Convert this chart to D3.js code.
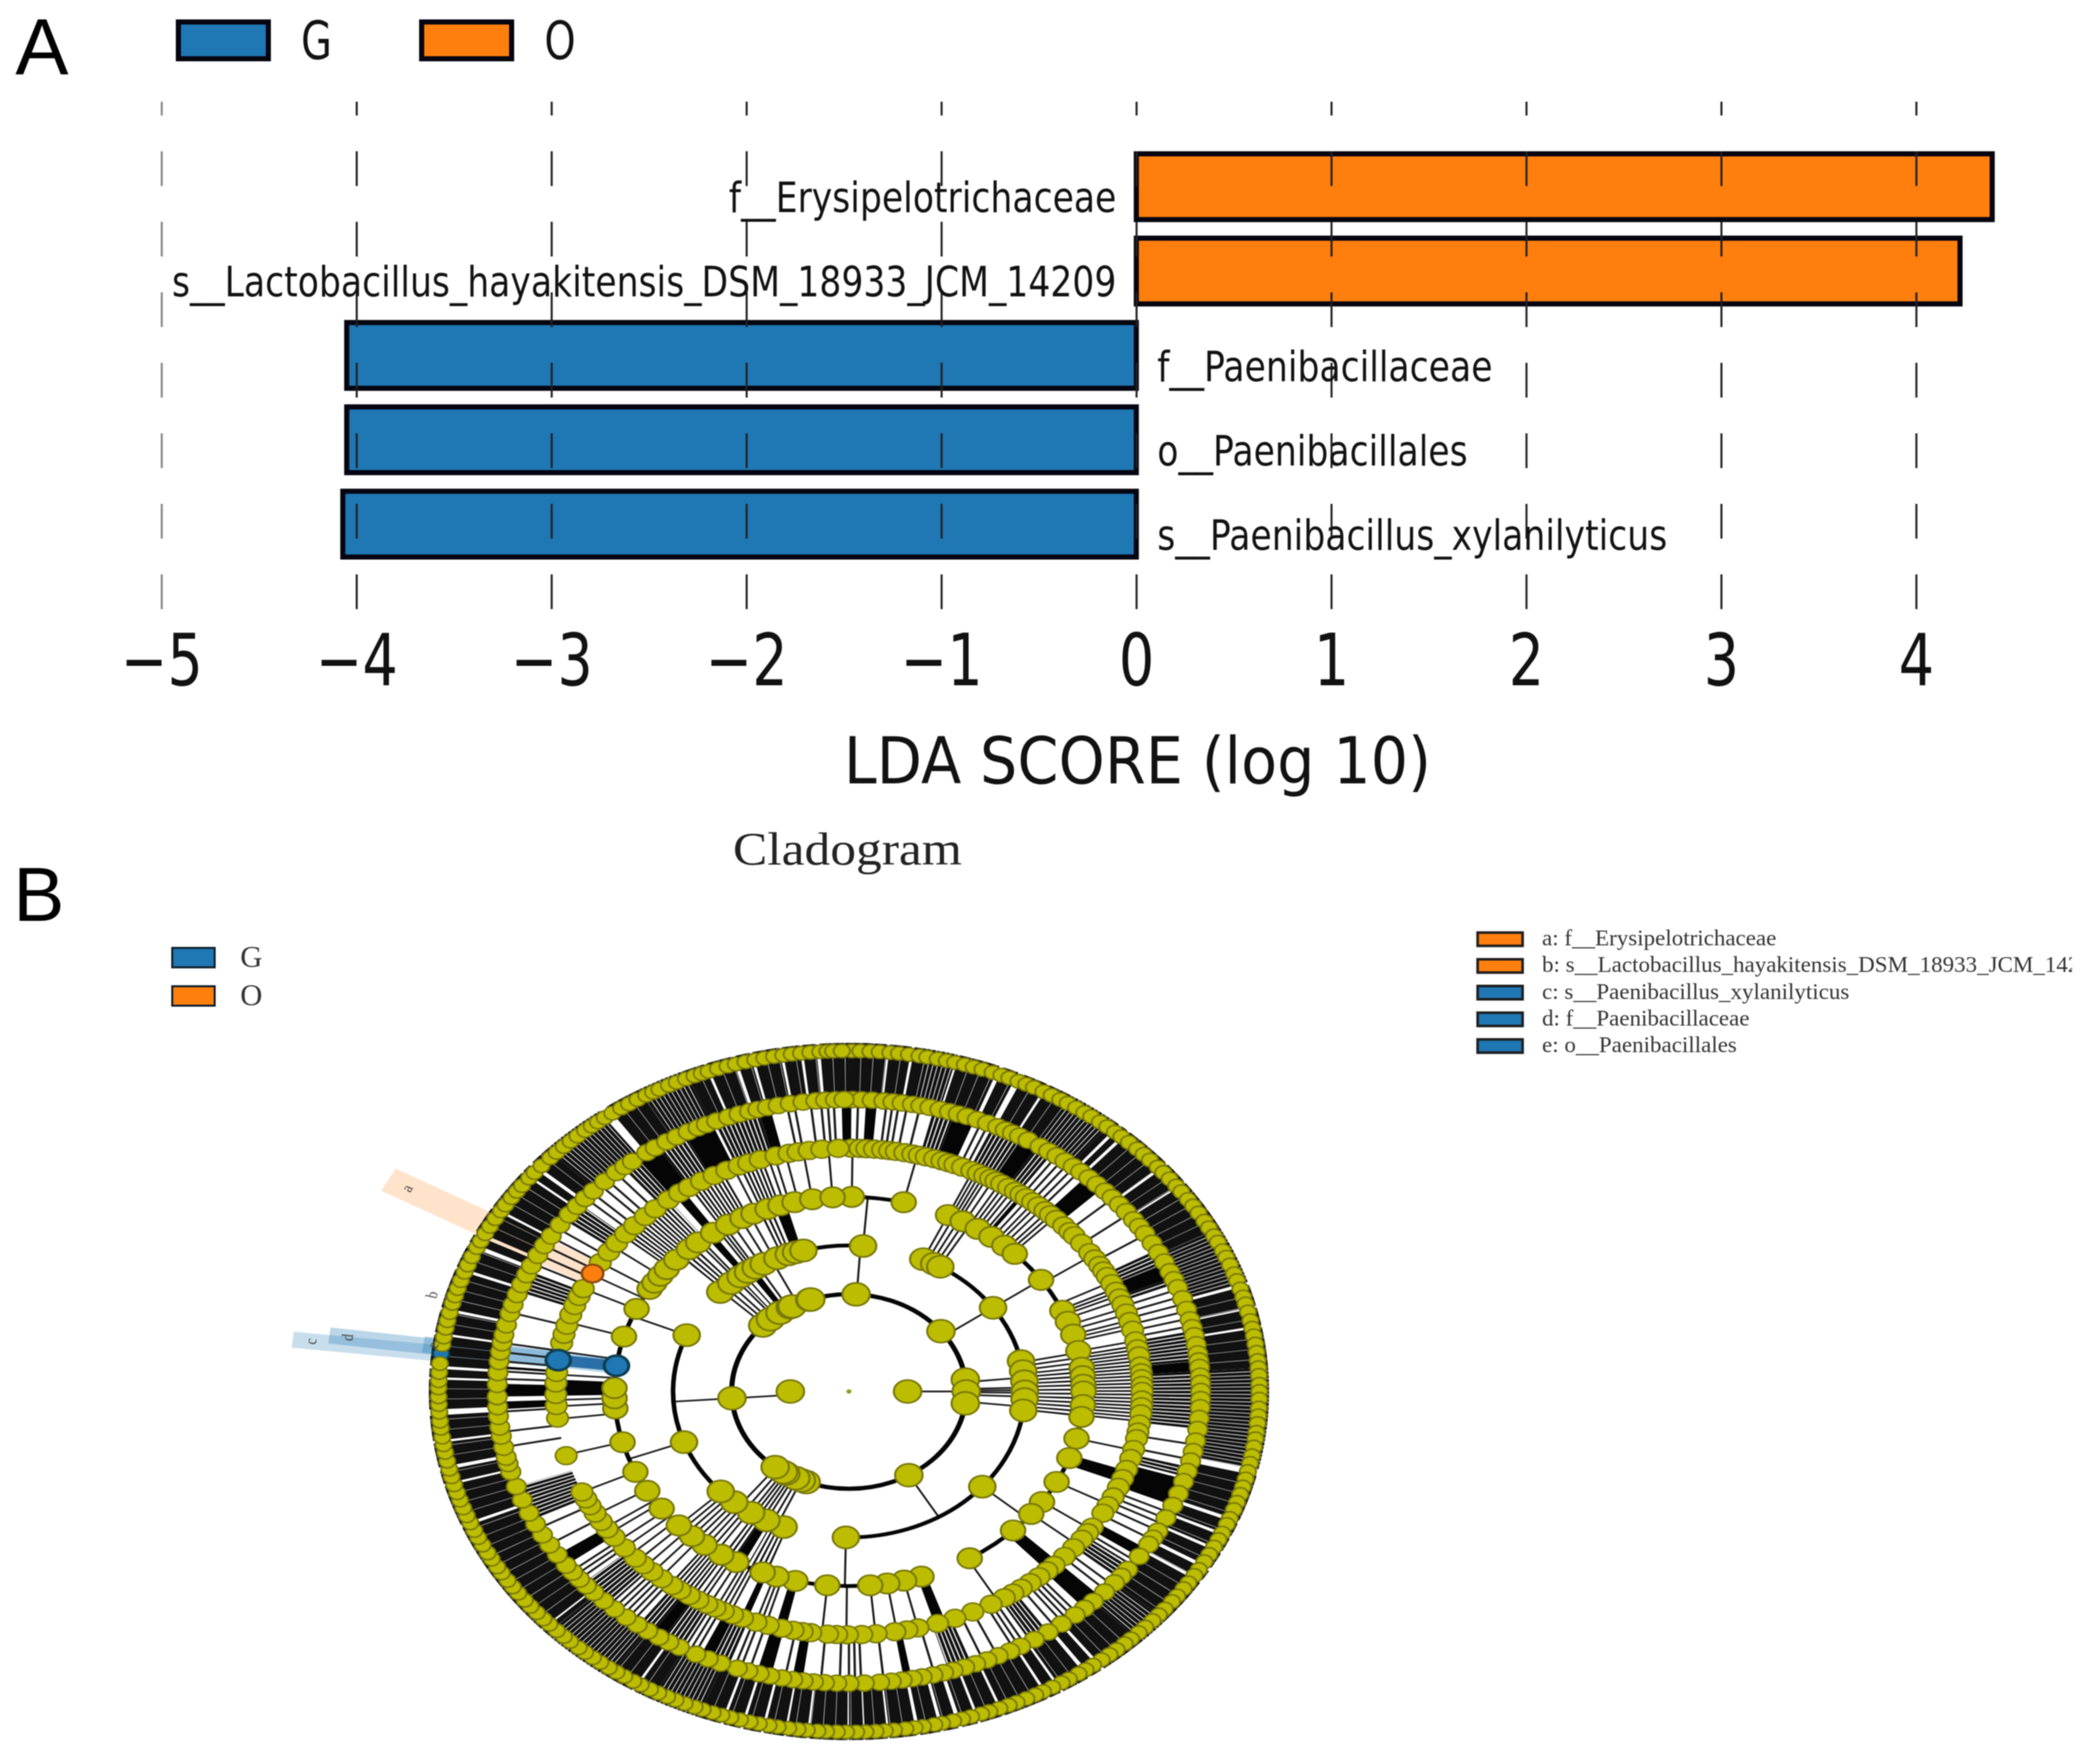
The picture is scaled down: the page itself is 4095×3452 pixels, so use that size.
<!DOCTYPE html>
<html>
<head>
<meta charset="utf-8">
<script src="https://d3js.org/d3.v7.min.js"></script>
<style>
  body { margin: 0; background: #fff; }
  svg { display: block; filter: blur(1.2px); }
</style>
</head>
<body>
<div class="graph"></div>
<script>
// LDA bars
var taxa = ["f__Erysipelotrichaceae", "s__Lactobacillus_hayakitensis_DSM_18933_JCM_14209", "f__Paenibacillaceae", "o__Paenibacillales", "s__Paenibacillus_xylanilyticus"];
var ldaScores = [4.39, 4.225, -4.05, -4.05, -4.07];
var xTicks = [-5, -4, -3, -2, -1, 0, 1, 2, 3, 4];
var groups = ["G", "O"];
var groupColors = ["#1f77b4", "#ff7f0e"];

// cladogram legend, in the order of the letters
var cladeLetters = ["a", "b", "c", "d", "e"];
var cladeNames = ["f__Erysipelotrichaceae", "s__Lactobacillus_hayakitensis_DSM_18933_JCM_14209", "s__Paenibacillus_xylanilyticus", "f__Paenibacillaceae", "o__Paenibacillales"];
var cladeGroups = ["O", "O", "G", "G", "G"];

// node angles per ring, degrees clockwise from the top
var ring1 = [90, 270];
var ring2 = [3.5, 51.7, 83, 90, 97, 149.3, 201.4, 204, 207, 212.6, 214, 219, 266, 312.7, 318, 324, 330, 331, 340.5, 341];
var ring3 = [4.6, 25, 29, 31.3, 55, 78, 82, 86, 90, 93, 97.5, 130.7, 181, 201.8, 208, 213.8, 220.7, 226.8, 249.7, 292.7, 313, 318, 322, 325, 328, 331, 336, 340, 342.5, 345];
var ring4 = [0.7, 13.5, 25, 29, 33.3, 37.4, 41.5, 45, 55, 65.5, 69, 73, 78, 83, 85.5, 88, 90, 94, 97.5, 104, 110, 117.7, 124.6, 129, 135.6, 149, 162, 166.4, 170.6, 174.8, 185.3, 193.2, 198, 201.6, 208.7, 213, 218, 222, 226.5, 233, 239.3, 245.6, 254.9, 265, 268, 271, 286.4, 295.1, 301.8, 304, 306.5, 309, 312.6, 317, 320, 324.6, 329, 333, 336, 339.7, 343, 346.6, 351, 356];
var ring5 = [0.5, 2.2, 3.5, 5, 6.6, 8, 9.3, 11, 12.6, 13.9, 15.3, 17, 18.5, 19.9, 21.2, 22.8, 24.8, 26.2, 27.6, 28.9, 30.1, 31.4, 33, 34.6, 35.9, 37.2, 38.8, 40.3, 42, 43.4, 45, 47.1, 48.9, 50.2, 52.5, 55.2, 57, 58.8, 60.3, 61.8, 63.7, 65.7, 67.4, 69.1, 71.2, 73.3, 75.4, 78, 79.9, 81.6, 84, 85.6, 87, 88.6, 90, 92, 93.6, 95.3, 97.7, 99.6, 101.2, 103.8, 106, 108.7, 111, 113.2, 115.7, 118, 120, 123.9, 125.5, 127.4, 130, 132.7, 135.6, 137.5, 139.6, 141.8, 144, 146, 148, 151, 155, 158.8, 162.4, 166.4, 168.6, 171, 174.7, 177.5, 180.3, 182.4, 184.2, 187.5, 189.2, 191, 193.3, 196, 198.5, 201.3, 203.4, 205.4, 207.2, 209, 211, 213, 215.2, 217.1, 219.7, 222.2, 224.6, 226.8, 230, 233.2, 235.6, 237.7, 240, 242, 243.8, 245.6, 254.7, 263.7, 266.7, 269.3, 272, 274.5, 281.5, 283.6, 285.8, 288.4, 290.7, 293, 295, 302, 305, 307.6, 310.4, 313, 316, 318.7, 322, 324.7, 327, 329.8, 332.6, 335.4, 338, 340, 342.4, 345.6, 348.2, 350, 352.2, 354.7, 357.9];
var ring6 = [0.6, 2.1, 3.8, 5.7, 7.2, 8.7, 10.4, 11.8, 13.3, 15, 16.6, 18.1, 19.6, 21.4, 23.2, 25, 26.4, 27.7, 29, 30.6, 32.9, 34.6, 36.2, 37.9, 39.6, 41.2, 43, 44.8, 46.7, 48.4, 50.2, 52, 54, 55.6, 57.3, 59.5, 61.6, 63.7, 65.8, 67.5, 69.2, 71.5, 73.7, 75.8, 77.4, 79, 80.8, 82.6, 84, 85.3, 87, 88.4, 90, 91.6, 93.2, 95.3, 97.5, 99.8, 101.9, 103.8, 105.9, 108, 110.5, 113, 115.7, 118.6, 120.2, 121.6, 124.4, 127.6, 129.3, 131, 133.4, 136, 138, 140, 142.8, 145.5, 148.2, 150.8, 152.8, 154.9, 156.9, 158.9, 160.8, 162.8, 164.4, 166.2, 168, 169.6, 171.3, 173.1, 175, 177.5, 180, 182, 184, 185.8, 187.5, 189.2, 191, 193, 194.8, 196.7, 198.5, 201.4, 203.6, 205.8, 208.8, 210.8, 212.7, 214.9, 217, 219.3, 221.8, 224.2, 226.5, 228.3, 230, 231.8, 233.5, 236, 238.3, 240.6, 243, 245.4, 248.2, 251, 254, 255.7, 257, 259, 261.2, 263, 265.1, 267, 269, 271.4, 273.7, 275.9, 277.8, 279.6, 281.2, 283.2, 285.5, 287.3, 289.4, 291.5, 293.6, 295.5, 297.8, 300, 302.2, 304.8, 307.3, 309.4, 311.4, 313.4, 316, 318.6, 320.4, 322, 324.9, 326.6, 328.8, 330.7, 332.8, 334.6, 336.1, 337.9, 340, 341.8, 343.6, 345, 346.6, 348.4, 350.4, 352.5, 354.6, 356.2, 357.8, 359.2];
var ring7 = [0.4, 1.6, 3, 4.3, 5.8, 7, 8.4, 9.9, 11, 12.5, 13.8, 15, 16.4, 17.7, 19, 20.5, 21.8, 23, 24.4, 25.6, 26.8, 28.3, 29.6, 31, 32.2, 33.6, 35, 36.2, 37.7, 39, 40.4, 41.6, 43, 44.6, 45.9, 47.2, 48.8, 50, 51.4, 52.9, 54.1, 55.7, 57, 58.4, 60, 61.3, 62.8, 64, 65.6, 66.8, 68.2, 69.8, 71, 72.5, 73.9, 75.1, 76.5, 78, 79.3, 80.6, 82, 83.4, 84.8, 86, 87.3, 88.8, 90, 91.3, 92.8, 94.1, 95.4, 96.9, 98, 99.4, 100.9, 102.2, 103.6, 104.9, 106.3, 107.6, 109, 110.3, 111.9, 113, 114.6, 115.8, 117.2, 118.6, 120, 121.5, 122.7, 124.2, 125.4, 126.9, 128.1, 129.7, 131, 132.3, 133.8, 135.1, 136.6, 137.8, 139.3, 140.6, 142, 143.5, 144.8, 146, 147.6, 148.8, 150.3, 151.8, 153, 154.4, 155.9, 157.1, 158.5, 160, 161.2, 162.7, 164, 165.3, 166.9, 168, 169.6, 170.8, 172.1, 173.7, 175, 176.3, 177.7, 179, 180.4, 181.7, 183.2, 184.4, 185.9, 187.2, 188.5, 190, 191.3, 192.7, 194, 195.4, 196.8, 198.1, 199.4, 200.9, 202.1, 203.6, 205, 206.3, 207.7, 209, 210.5, 211.7, 213.2, 214.5, 215.8, 217.3, 218.6, 220, 221.2, 222.8, 224, 225.4, 226.9, 228.1, 229.5, 230.9, 232.2, 233.7, 235, 236.3, 237.8, 239, 240.5, 241.7, 243.2, 244.6, 245.9, 247.3, 248.6, 250, 251.4, 252.7, 254.1, 255.5, 256.8, 258.2, 259.7, 261, 262.3, 263.8, 265, 266.5, 267.8, 269.1, 270.6, 271.8, 273.2, 274.7, 277.9, 279.2, 280.7, 282, 283.4, 285, 286.3, 287.6, 289, 290.5, 291.8, 293.3, 295, 296.2, 297.6, 299, 300.5, 302, 303.2, 304.7, 306, 307.2, 308.8, 310, 311.5, 313.3, 314.6, 316, 317.3, 318.6, 320, 321.2, 322.3, 323.5, 324.8, 326.3, 327.6, 329, 330.4, 331.5, 332.5, 334, 335.2, 336.6, 337.9, 339, 340, 341.4, 342.8, 344, 345.4, 346.8, 348.1, 349.5, 350.8, 352, 353.3, 354.6, 356, 357, 357.8, 359];

// highlighted clades: ring and angle of each
var hlRings = [5, 7, 7, 5, 4];
var hlAngles = [299, 285.6, 276.4, 277.4, 277.6];

// spokes between rings: single lines, solid bundles [from, to] and striped bundles [from, to]
var lines12 = [90, 266];
var lines23 = [3.8, 55, 84.5, 88.5, 89.5, 90.5, 92, 96, 149.3, 204, 206, 208, 209.5, 211, 212.5, 214, 216, 218.5, 266, 313.5, 315.5, 317.5, 320, 329, 334];
var stripes23 = [[321, 325]];
var dark23 = [[325, 327.5]];
var lines34 = [4.6, 25, 26.5, 28, 29.5, 31, 55, 78.5, 80, 81.5, 83, 130.7, 181, 214.5, 216, 217.5, 219, 220.5, 222, 223.5, 225, 226.5, 249.7, 292.7, 320, 321, 326, 327, 328, 330, 332.5, 335];
var stripes34 = [[84, 97.5], [200.5, 206], [209.5, 213], [314, 319], [337.5, 341]];
var dark34 = [[207, 209.5], [322.5, 324.5], [341.5, 344.5]];
var lines45 = [0.7, 13.5, 25, 25.8, 26.6, 27.4, 28.2, 29.5, 31, 32, 33, 34, 35.2, 37.7, 39, 40, 41.2, 42.5, 43.5, 44.5, 56, 63.3, 68, 70, 71.5, 73, 74, 75, 78, 104, 117.7, 124.5, 129, 149.5, 166.4, 170.6, 174.8, 180.5, 185.3, 196.5, 197.5, 198.5, 204, 205, 206, 207, 208.5, 210, 211, 220, 222, 224, 226, 228, 230, 232, 234.5, 236, 239.6, 245.6, 254.9, 263.5, 266.5, 268, 274, 279.5, 286.5, 295, 298.7, 302, 306.5, 336.8, 344, 345.3, 347.5, 351, 356];
var stripes45 = [[64.8, 67], [79, 97.5], [212, 218], [309.5, 322], [327, 335], [338, 343]];
var dark45 = [[35.8, 36.7], [109, 112], [134.5, 137.5], [160.8, 163], [192.5, 194.5], [200.3, 201.7], [269, 272.8], [323.5, 325.6]];
var lines56 = [1.5, 6.2, 7.2, 8.2, 9.6, 11.7, 22.2, 23.4, 36.2, 37.4, 38.6, 39.8, 41, 48.6, 52.6, 57.5, 69.5, 71, 72.5, 74, 75.5, 77, 100.5, 103.5, 114.5, 115.8, 117, 118.5, 120.5, 125.5, 126.5, 131.5, 133, 139.5, 140.5, 141.5, 142.5, 144, 150, 151, 152, 155, 157.5, 165.9, 174.3, 178, 179, 180, 181.5, 184.6, 190.5, 196.5, 198, 199, 206, 207, 208, 218, 219, 220, 221, 222, 223, 230, 231, 232, 238.4, 242, 259, 262, 266, 272.5, 274, 276, 277.8, 279.6, 285.7, 296, 298, 300, 302, 304, 311.5, 313, 315, 316.5, 318.5, 349.8, 351, 353.7, 355.4, 356.5, 357.5];
var stripes56 = [[14, 17.5], [24.2, 29.5], [32.5, 35.5], [61, 64], [67, 68.5], [78, 84], [86, 97.5], [105, 107], [127, 130], [145.5, 149], [159.5, 163.5], [200, 203], [208.5, 212], [214, 217], [223.5, 229], [244, 251], [290, 294.5], [306, 310], [320, 323], [327, 332], [337.5, 345]];
var dark56 = [[358.8, 360.4], [2.8, 4.6], [17.5, 21], [29.5, 32.5], [42.5, 46], [64, 67], [84, 86], [107.5, 113], [122.5, 124.5], [134.5, 138], [169.7, 171], [187.6, 189.3], [192.8, 195.2], [203, 205], [212, 214], [233.5, 236], [266.5, 268], [269, 271.5], [274.5, 275], [323, 327], [332, 337], [345, 347]];
var lines67 = [];
var stripes67 = [[10.8, 15], [32, 39], [62, 71.7], [86, 103], [131, 136], [201, 208], [215, 226], [314, 323.5], [330, 337]];
var dark67 = [[356, 360], [0, 5.3], [5.6, 8.6], [9, 10.8], [15.3, 21], [21.6, 23.8], [24.7, 28.2], [28.5, 32], [39, 40], [40.5, 41.5], [42, 49], [49.4, 53], [53.3, 62], [72.2, 75.8], [76.1, 79], [79.4, 86], [104, 111.7], [112.3, 114.5], [115, 117.2], [117.7, 120.4], [121, 122.8], [123.3, 131], [136, 142.6], [143.1, 144.7], [145.3, 149.3], [149.7, 151.4], [151.8, 158.2], [158.6, 161.7], [162.1, 164.3], [164.9, 166.9], [167.4, 170.2], [170.7, 174.4], [174.7, 177.8], [178, 180], [180.2, 185.5], [185.8, 188.6], [188.9, 191.7], [192.1, 194.6], [195, 197.4], [197.8, 201], [208, 210.7], [211.1, 215], [226, 226.8], [227.1, 247], [247.5, 254.2], [254.6, 256.8], [257.4, 261.4], [261.8, 266], [267, 272], [272.4, 273.8], [274.3, 279.4], [279.8, 283.5], [284, 290.5], [291, 294.7], [295.4, 296.8], [297.4, 301.7], [302.1, 308.8], [309.2, 310.5], [311.1, 314], [324.8, 330], [337, 339.8], [340.2, 343.8], [344.3, 346.3], [346.7, 350.4], [350.8, 353.2], [353.6, 355.5]];

// black arcs on each ring, [from, to]
var arcs2 = [[0, 360]];
var arcs3 = [[345, 364.6], [31, 78], [97.5, 181], [201.8, 292.7], [313, 345]];
var arcs4 = [[0.7, 13.5], [25, 149], [162, 312.6]];

var width = 4095, height = 3452;
var svg = d3.select(".graph").append("svg")
    .attr("width", width)
    .attr("height", height)
    .style("font-family", "'DejaVu Sans'");

function groupColor(g) { return groupColors[groups.indexOf(g)]; }

// PANEL A
var x = d3.scaleLinear().domain([-5, 4]).range([316, 3749]);
var y = d3.scaleBand().domain(taxa).range([296, 1095]).paddingInner(0.16);

svg.append("text").attr("x", 30).attr("y", 145)
    .style("font-family", "'Liberation Sans'").style("font-size", "156px").text("A");
svg.append("text").attr("x", 26).attr("y", 1802)
    .style("font-family", "'Liberation Sans'").style("font-size", "150px").text("B");

var legendX = [349, 825];
groups.forEach(function(g, i) {
  svg.append("rect")
      .attr("x", legendX[i]).attr("y", 43)
      .attr("width", 176).attr("height", 72)
      .attr("fill", groupColors[i]).attr("stroke", "#050510").attr("stroke-width", 10);
  svg.append("text")
      .attr("transform", "translate(" + (legendX[i] + 240) + ",116) scale(.75,1)")
      .style("font-size", "104px").attr("fill", "#111").text(g);
});

svg.selectAll(".bar")
    .data(taxa)
  .enter().append("rect")
    .attr("class", "bar")
    .attr("x", function(d, i) { return Math.min(x(0), x(ldaScores[i])); })
    .attr("y", function(d) { return y(d) + 5; })
    .attr("width", function(d, i) { return Math.abs(x(ldaScores[i]) - x(0)); })
    .attr("height", y.bandwidth() - 10)
    .attr("fill", function(d, i) { return ldaScores[i] > 0 ? groupColors[1] : groupColors[0]; })
    .attr("stroke", "#050510")
    .attr("stroke-width", 10);

// the ticks run up through the bars as dashed grid lines
var xAxis = svg.append("g")
    .attr("transform", "translate(0,1192)")
    .call(d3.axisBottom(x).tickValues(xTicks).tickSize(-993).tickPadding(50));
xAxis.select(".domain").remove();
xAxis.selectAll(".tick line")
    .attr("stroke", function(d) { return d === -5 ? "#888" : "#222"; })
    .attr("stroke-width", 4)
    .attr("stroke-dasharray", "68 70");
xAxis.selectAll(".tick text")
    .attr("transform", "scale(.78,1)")
    .attr("dy", "0.71em")
    .style("font-family", "'DejaVu Sans'")
    .style("font-size", "140px")
    .attr("fill", "#111");

svg.selectAll(".barlabel")
    .data(taxa)
  .enter().append("text")
    .attr("class", "barlabel")
    .attr("transform", function(d, i) {
      var tx = ldaScores[i] > 0 ? x(0) - 39 : x(0) + 41;
      return "translate(" + tx + "," + (y(d) + y.bandwidth() / 2 + 50) + ") scale(.826,1)";
    })
    .attr("text-anchor", function(d, i) { return ldaScores[i] > 0 ? "end" : "start"; })
    .style("font-size", "82px")
    .attr("fill", "#111")
    .text(function(d) { return d; });

svg.append("text")
    .attr("x", 1651).attr("y", 1533)
    .attr("textLength", 1149).attr("lengthAdjust", "spacingAndGlyphs")
    .style("font-size", "126px").attr("fill", "#111")
    .text("LDA SCORE (log 10)");

// PANEL B
var serif = "'Liberation Serif'";
svg.append("text")
    .attr("x", 1434).attr("y", 1692)
    .attr("textLength", 448).attr("lengthAdjust", "spacingAndGlyphs")
    .style("font-family", serif).style("font-size", "90px").attr("fill", "#222")
    .text("Cladogram");

var legend2Y = [1855, 1930];
groups.forEach(function(g, i) {
  svg.append("rect")
      .attr("x", 337).attr("y", legend2Y[i])
      .attr("width", 83).attr("height", 38)
      .attr("fill", groupColors[i]).attr("stroke", "#10202c").attr("stroke-width", 4);
  svg.append("text")
      .attr("x", 470).attr("y", legend2Y[i] + 37)
      .style("font-family", serif).style("font-size", "60px").attr("fill", "#333")
      .text(g);
});

// the long name runs off the legend frame in the original too
svg.append("clipPath").attr("id", "legendclip")
  .append("rect").attr("x", 2880).attr("y", 1780).attr("width", 1174).attr("height", 320);

var cladeLegend = svg.append("g").attr("clip-path", "url(#legendclip)");
var legendStep = d3.scaleLinear().domain([0, 4]).range([1823, 2032]);
cladeLetters.forEach(function(l, i) {
  cladeLegend.append("rect")
      .attr("x", 2891).attr("y", legendStep(i) + 2)
      .attr("width", 88).attr("height", 26)
      .attr("fill", groupColor(cladeGroups[i]))
      .attr("stroke", "#1c1c1c").attr("stroke-width", 5);
  cladeLegend.append("text")
      .attr("x", 3017).attr("y", legendStep(i) + 27)
      .style("font-family", serif).style("font-size", "45px").attr("fill", "#333")
      .text(l + ": " + cladeNames[i]);
});

// the picture was stretched sideways, so the circles are drawn in a squashed group
var clado = svg.append("g").attr("transform", "translate(1661,2723) scale(1,.83)");

var radius = d3.scaleLinear().domain([0, 7]).range([0, 803]);
var angle = d3.scaleLinear().domain([0, 360]).range([0, 2 * Math.PI]);

function arcPath(r, a0, a1) {
  var p = d3.path();
  p.arc(0, 0, r, angle(a0) - Math.PI / 2, angle(a1) - Math.PI / 2);
  return p.toString();
}

function drawBand(ring, lines, stripes, dark, lineW, dash) {
  var r0 = radius(ring), r1 = ring === 6 ? 822 : radius(ring + 1);
  var band = clado.append("g");
  band.selectAll("line")
      .data(lines)
    .enter().append("line")
      .attr("x1", function(d) { return d3.pointRadial(angle(d), r0)[0]; })
      .attr("y1", function(d) { return d3.pointRadial(angle(d), r0)[1]; })
      .attr("x2", function(d) { return d3.pointRadial(angle(d), r1)[0]; })
      .attr("y2", function(d) { return d3.pointRadial(angle(d), r1)[1]; })
      .attr("stroke", "#1a1a1a")
      .attr("stroke-width", lineW);
  band.selectAll("path.stripe")
      .data(stripes)
    .enter().append("path")
      .attr("class", "stripe")
      .attr("d", function(d) { return arcPath((r0 + r1) / 2, d[0], d[1]); })
      .attr("fill", "none")
      .attr("stroke", "#111")
      .attr("stroke-width", r1 - r0)
      .attr("stroke-dasharray", dash);
  band.selectAll("path.dark")
      .data(dark)
    .enter().append("path")
      .attr("class", "dark")
      .attr("d", d3.arc()
        .innerRadius(r0).outerRadius(r1)
        .startAngle(function(d) { return angle(d[0]); })
        .endAngle(function(d) { return angle(d[1]); }))
      .attr("fill", "#050505");
}

// shaded strips from the marked clades out to their letters, under the spokes
function shade(a, r0, r1, w, color, op) {
  clado.append("rect")
      .attr("transform", "rotate(" + a + ")")
      .attr("x", -w / 2).attr("y", -r1)
      .attr("width", w).attr("height", r1 - r0)
      .attr("fill", color).attr("opacity", op);
}
shade(hlAngles[0], radius(hlRings[0]), 1030, 59, groupColors[1], 0.22);
shade(hlAngles[2], 803, 1095, 38, groupColors[0], 0.24);
shade(hlAngles[3], radius(hlRings[3]), 1025, 38, groupColors[0], 0.3);
shade(hlAngles[4], radius(hlRings[4]), 840, 38, groupColors[0], 0.3);

drawBand(1, lines12, [], [], 4, "");
drawBand(2, lines23, stripes23, dark23, 4, "3 7");
drawBand(3, lines34, stripes34, dark34, 4, "4 5");
drawBand(4, lines45, stripes45, dark45, 4, "4 4");
drawBand(5, lines56, stripes56, dark56, 4.5, "6 2.5");
drawBand(6, lines67, stripes67, [], 4, "7 1.6");
drawBand(6, [], dark67, [], 4, "22 1");

// solid piece between the two blue clades
clado.append("line")
    .attr("x1", d3.pointRadial(angle(hlAngles[4]), radius(4))[0])
    .attr("y1", d3.pointRadial(angle(hlAngles[4]), radius(4))[1])
    .attr("x2", d3.pointRadial(angle(hlAngles[3]), radius(5))[0])
    .attr("y2", d3.pointRadial(angle(hlAngles[3]), radius(5))[1])
    .attr("stroke", "#2a6fa8").attr("stroke-width", 26);

function drawArcs(ring, spans, w) {
  clado.append("g").selectAll("path")
      .data(spans)
    .enter().append("path")
      .attr("d", function(d) { return arcPath(radius(ring), d[0], d[1]); })
      .attr("fill", "none")
      .attr("stroke", "#050505")
      .attr("stroke-width", w);
}
drawArcs(2, arcs2, 10);
drawArcs(3, arcs3, 9);
drawArcs(4, arcs4, 9);

function drawNodes(ring, angles, r, fill, stroke, sw) {
  clado.append("g").selectAll("circle")
      .data(angles)
    .enter().append("circle")
      .attr("cx", function(d) { return d3.pointRadial(angle(d), radius(ring))[0]; })
      .attr("cy", function(d) { return d3.pointRadial(angle(d), radius(ring))[1]; })
      .attr("r", r)
      .attr("fill", fill)
      .attr("stroke", stroke)
      .attr("stroke-width", sw);
}
var nodeFill = "#bcbc00", nodeStroke = "#77770c";

// root
clado.append("circle").attr("r", 5).attr("fill", "#8f9f20");

// the blue node at the rim sits under the yellow ones
drawNodes(hlRings[2], [hlAngles[2]], 16, groupColors[0], "#0c3f50", 4);

drawNodes(1, ring1, 27, nodeFill, nodeStroke, 4);
drawNodes(2, ring2, 27, nodeFill, nodeStroke, 4);
drawNodes(3, ring3, 26, nodeFill, nodeStroke, 4);
drawNodes(4, ring4, 24, nodeFill, nodeStroke, 4);
drawNodes(5, ring5, 21, nodeFill, nodeStroke, 3.5);
drawNodes(6, ring6, 19, nodeFill, nodeStroke, 3.5);
drawNodes(7, ring7, 16, nodeFill, nodeStroke, 3.5);

drawNodes(hlRings[4], [hlAngles[4]], 24, groupColors[0], "#0c3f50", 6);
drawNodes(hlRings[3], [hlAngles[3]], 24, groupColors[0], "#0c3f50", 6);
drawNodes(hlRings[0], [hlAngles[0]], 21, groupColors[1], "#8a4a10", 5);

// rotated letters at the end of the strips
var letterRadius = [989, 848, 1060, 990, 822];
cladeLetters.forEach(function(l, i) {
  var p = d3.pointRadial(angle(hlAngles[i]), letterRadius[i]);
  clado.append("text")
      .attr("transform", "translate(" + p[0] + "," + p[1] + ") rotate(" + hlAngles[i] + ")")
      .attr("text-anchor", "middle")
      .attr("dy", "0.35em")
      .style("font-family", serif).style("font-size", "32px").attr("fill", "#444")
      .text(l);
});
</script>
</body>
</html>
